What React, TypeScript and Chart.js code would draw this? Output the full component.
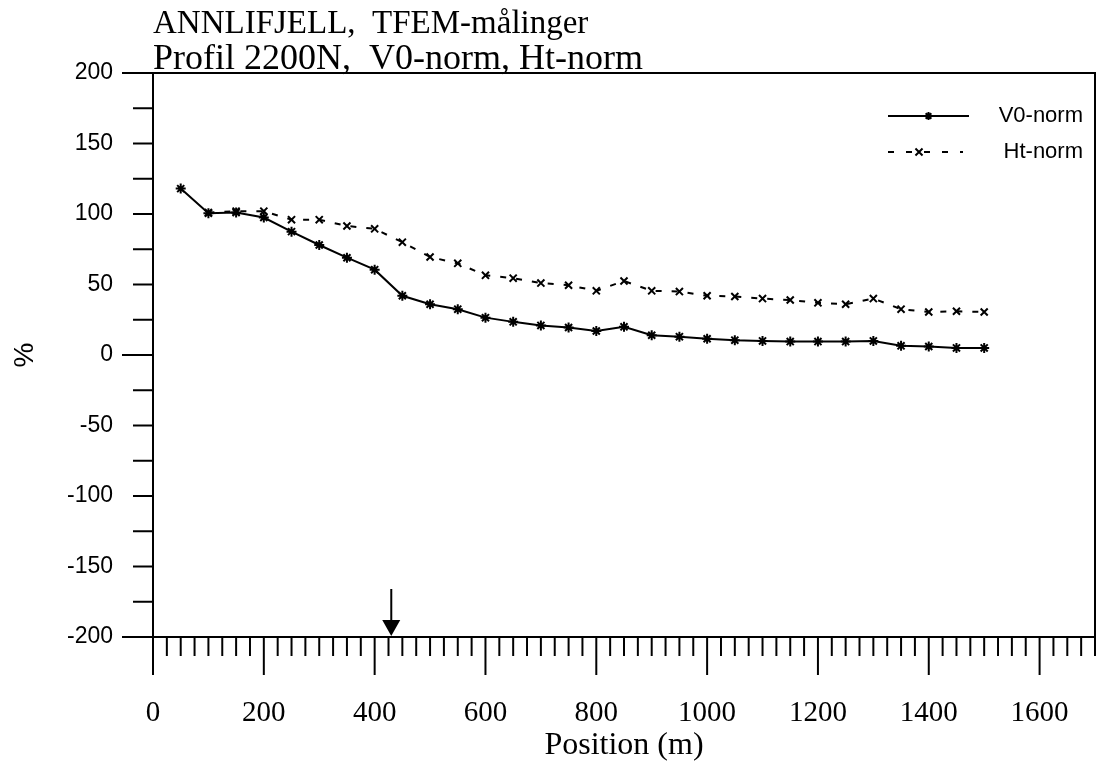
import React, { useEffect, useRef } from 'react';
import { Chart, registerables } from 'chart.js';

Chart.register(...registerables);

const TITLE_LINES = ['ANNLIFJELL,  TFEM-målinger', 'Profil 2200N,  V0-norm, Ht-norm'];
const X_TITLE = 'Position (m)';
const Y_TITLE = '%';
const SERIES_NAMES = ['V0-norm', 'Ht-norm'];

const POSITIONS = [
  50, 100, 150, 200, 250, 300, 350, 400, 450, 500, 550, 600, 650, 700, 750,
  800, 850, 900, 950, 1000, 1050, 1100, 1150, 1200, 1250, 1300, 1350, 1400, 1450, 1500,
];
const V0_NORM = [
  118, 100.5, 101, 97.5, 87.5, 78, 69, 60.5, 42, 36, 32.5, 26.5, 23.5, 21, 19.5,
  17, 20, 14, 13, 11.5, 10.5, 10, 9.5, 9.5, 9.5, 10, 6.5, 6, 5, 5,
];
const HT_NORM = [
  null, 101, 102, 102, 96, 96, 91.5, 89.5, 80, 69.5, 65, 56.5, 54.5, 51, 49.5,
  45.5, 52.5, 45.5, 45, 42, 41.5, 40, 39, 37, 36, 40, 32.5, 30.5, 31, 30.5,
];

const X_TICKS = [0, 200, 400, 600, 800, 1000, 1200, 1400, 1600];
const Y_TICKS = [-200, -150, -100, -50, 0, 50, 100, 150, 200];
const X_MIN = 0;
const X_MAX = 1700;
const Y_MIN = -200;
const Y_MAX = 200;
const MINOR_STEP = 25;
const Y_LONG_TICKS = [-200, 0, 200];
const ARROW_POSITION = 430;

function drawStar(ctx: CanvasRenderingContext2D, x: number, y: number, r: number) {
  ctx.beginPath();
  ctx.moveTo(x - r, y); ctx.lineTo(x + r, y);
  ctx.moveTo(x, y - r); ctx.lineTo(x, y + r);
  const d = r * 0.7071;
  ctx.moveTo(x - d, y - d); ctx.lineTo(x + d, y + d);
  ctx.moveTo(x - d, y + d); ctx.lineTo(x + d, y - d);
  ctx.stroke();
}
function drawX(ctx: CanvasRenderingContext2D, x: number, y: number, r: number) {
  const d = r * 0.7071;
  ctx.beginPath();
  ctx.moveTo(x - d, y - d); ctx.lineTo(x + d, y + d);
  ctx.moveTo(x - d, y + d); ctx.lineTo(x + d, y - d);
  ctx.stroke();
}

const decorPlugin = {
  id: 'decor',
  afterDraw(chart: any) {
    const { ctx, chartArea: a } = chart;
    const xs = chart.scales.x;
    const ys = chart.scales.y;
    ctx.save();
    ctx.strokeStyle = '#000';
    ctx.fillStyle = '#000';
    ctx.setLineDash([]);
    // frame
    ctx.lineWidth = 2;
    ctx.strokeRect(a.left, a.top, a.right - a.left, a.bottom - a.top);
    // y ticks (outside, left)
    for (let v = Y_MIN; v <= Y_MAX; v += MINOR_STEP) {
      const py = ys.getPixelForValue(v);
      const len = Y_LONG_TICKS.includes(v) ? 31 : 20;
      ctx.beginPath();
      ctx.moveTo(a.left - len, py);
      ctx.lineTo(a.left, py);
      ctx.stroke();
    }
    // x ticks (outside, below)
    for (let v = X_MIN; v <= X_MAX; v += MINOR_STEP) {
      const px = xs.getPixelForValue(v);
      const len = X_TICKS.includes(v) ? 38 : 19;
      ctx.beginPath();
      ctx.moveTo(px, a.bottom);
      ctx.lineTo(px, a.bottom + len);
      ctx.stroke();
    }
    // arrow
    const ax = xs.getPixelForValue(ARROW_POSITION);
    ctx.beginPath();
    ctx.moveTo(ax, a.bottom - 48);
    ctx.lineTo(ax, a.bottom - 16);
    ctx.stroke();
    ctx.beginPath();
    ctx.moveTo(ax - 9, a.bottom - 17);
    ctx.lineTo(ax + 9, a.bottom - 17);
    ctx.lineTo(ax, a.bottom - 1);
    ctx.closePath();
    ctx.fill();
    // legend
    const lx0 = a.right - 207;
    const lx1 = a.right - 126;
    const ly1 = a.top + 43;
    const ly2 = a.top + 79;
    ctx.lineWidth = 2;
    ctx.beginPath();
    ctx.moveTo(lx0, ly1);
    ctx.lineTo(lx1, ly1);
    ctx.stroke();
    drawStar(ctx, (lx0 + lx1) / 2, ly1, 4);
    ctx.setLineDash([6, 12]);
    ctx.beginPath();
    ctx.moveTo(lx0, ly2);
    ctx.lineTo(lx1 - 6, ly2);
    ctx.stroke();
    ctx.setLineDash([]);
    drawX(ctx, lx0 + 31, ly2, 5);
    ctx.font = '22px "Liberation Sans", Arial, sans-serif';
    ctx.textAlign = 'right';
    ctx.textBaseline = 'middle';
    ctx.fillText(SERIES_NAMES[0], a.right - 12, ly1);
    ctx.fillText(SERIES_NAMES[1], a.right - 12, ly2);
    // title
    ctx.textAlign = 'left';
    ctx.textBaseline = 'alphabetic';
    ctx.font = '33px "Liberation Serif", "Times New Roman", serif';
    ctx.fillText(TITLE_LINES[0], a.left, 33);
    ctx.font = '36px "Liberation Serif", "Times New Roman", serif';
    ctx.fillText(TITLE_LINES[1], a.left, 69);
    ctx.restore();
  },
};

export default function App() {
  const canvasRef = useRef<HTMLCanvasElement | null>(null);

  useEffect(() => {
    if (!canvasRef.current) return;
    const v0Data = POSITIONS.map((p, i) => ({ x: p, y: V0_NORM[i] }));
    const htData = POSITIONS.map((p, i) => ({ x: p, y: HT_NORM[i] })).filter((d) => d.y !== null);
    const chart = new Chart(canvasRef.current, {
      type: 'line',
      data: {
        datasets: [
          {
            label: SERIES_NAMES[0],
            data: v0Data as any,
            borderColor: '#000',
            backgroundColor: '#000',
            borderWidth: 2,
            pointStyle: 'star',
            pointRadius: 5,
            pointBorderWidth: 2,
            pointBorderColor: '#000',
            tension: 0,
            fill: false,
          },
          {
            label: SERIES_NAMES[1],
            data: htData as any,
            borderColor: '#000',
            backgroundColor: '#000',
            borderWidth: 2,
            borderDash: [6, 10],
            pointStyle: 'crossRot',
            pointRadius: 5,
            pointBorderWidth: 2,
            pointBorderColor: '#000',
            tension: 0,
            fill: false,
          },
        ],
      },
      options: {
        animation: false,
        responsive: false,
        devicePixelRatio: 1,
        events: [],
        layout: { padding: { top: 73, right: 9, left: 0, bottom: 0 } },
        plugins: {
          legend: { display: false },
          tooltip: { enabled: false },
          title: { display: false },
        },
        scales: {
          x: {
            type: 'linear',
            min: X_MIN,
            max: X_MAX,
            grid: { display: false, drawTicks: false },
            border: { display: false },
            afterBuildTicks: (s: any) => {
              s.ticks = X_TICKS.map((v) => ({ value: v }));
            },
            afterFit: (s: any) => {
              s.height = 128;
              s.paddingLeft = 0;
              s.paddingRight = 0;
            },
            ticks: {
              autoSkip: false,
              maxRotation: 0,
              padding: 59,
              color: '#000',
              callback: (v: any) => String(v),
              font: { family: '"Liberation Serif", "Times New Roman", serif', size: 29 },
            },
            title: {
              display: true,
              text: X_TITLE,
              color: '#000',
              padding: { top: 1, bottom: 0 },
              font: { family: '"Liberation Serif", "Times New Roman", serif', size: 32 },
            },
          },
          y: {
            type: 'linear',
            min: Y_MIN,
            max: Y_MAX,
            grid: { display: false, drawTicks: false },
            border: { display: false },
            afterBuildTicks: (s: any) => {
              s.ticks = Y_TICKS.map((v) => ({ value: v }));
            },
            afterFit: (s: any) => {
              s.width = 153;
              s.paddingTop = 0;
              s.paddingBottom = 0;
            },
            ticks: {
              autoSkip: false,
              padding: 40,
              color: '#000',
              callback: (v: any) => String(v),
              font: { family: '"Liberation Sans", Arial, sans-serif', size: 23 },
            },
            title: {
              display: true,
              text: Y_TITLE,
              color: '#000',
              padding: { top: 8, bottom: 0 },
              font: { family: '"Liberation Sans", Arial, sans-serif', size: 28 },
            },
          },
        },
      },
      plugins: [decorPlugin],
    });
    return () => chart.destroy();
  }, []);

  return (
    <div style={{ position: 'fixed', left: 0, top: 0, width: 1104, height: 765, background: '#fff' }}>
      <canvas ref={canvasRef} width={1104} height={765} style={{ display: 'block' }} />
    </div>
  );
}
